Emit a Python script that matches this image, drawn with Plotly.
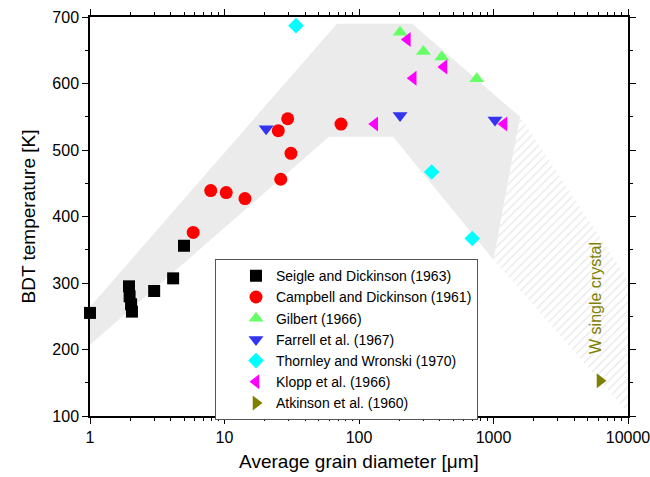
import plotly.graph_objects as go
import math

# ---------------- data ----------------
seigle_x = [1.0, 1.95, 1.97, 2.02, 2.05, 3.0, 4.15, 5.0]
seigle_y = [255, 295, 280, 268, 257, 288, 307, 356]

campbell_x = [5.85, 7.9, 10.3, 14.2, 26.2, 31.2, 25.1, 29.5, 73.5]
campbell_y = [376, 439, 436, 427, 456, 495, 529, 547, 539]

gilbert_x = [202, 301, 412, 750]
gilbert_y = [677, 648, 640, 607]

farrell_x = [20.4, 202, 1026]
farrell_y = [532, 552, 545]

thornley_x = [34, 347, 695]
thornley_y = [687, 467, 367]

klopp_x = [131, 229, 253, 428, 1197]
klopp_y = [539, 666, 608, 625, 539]

atkinson_x = [6190]
atkinson_y = [153]

# scatter band (grey) and single crystal band (hatched)
band_x = [1, 60, 179, 1000, 1574, 248, 68.6, 1]
band_y = [207, 520, 520, 335, 550, 690, 690, 264]

crystal_x = [1574, 10000, 10000, 1000]
crystal_y = [550, 305, 105, 335]

crystal_label = "W single crystal"
crystal_label_x = 5750
crystal_label_y = 277

x_tickvals = [1, 10, 100, 1000, 10000]
x_ticktext = ["1", "10", "100", "1000", "10000"]

FONT = "Liberation Sans, Arial, sans-serif"

fig = go.Figure()

fig.add_trace(go.Scatter(x=crystal_x, y=crystal_y, fill="toself", mode="lines",
                         line=dict(width=0), fillcolor="white",
                         fillpattern=dict(shape="/", fgcolor="#cfcfcf", bgcolor="white",
                                          size=6, solidity=0.2),
                         showlegend=False, hoverinfo="skip"))
fig.add_trace(go.Scatter(x=band_x, y=band_y, fill="toself", mode="lines",
                         line=dict(width=0), fillcolor="#ebebeb",
                         showlegend=False, hoverinfo="skip"))

series = [
    ("Seigle and Dickinson (1963)", seigle_x, seigle_y, "square", "#000000", 12),
    ("Campbell and Dickinson (1961)", campbell_x, campbell_y, "circle", "#ff0000", 13),
    ("Gilbert (1966)", gilbert_x, gilbert_y, "triangle-up", "#66ff66", 13),
    ("Farrell et al. (1967)", farrell_x, farrell_y, "triangle-down", "#3333f0", 13),
    ("Thornley and Wronski (1970)", thornley_x, thornley_y, "diamond", "#00ffff", 12),
    ("Klopp et al. (1966)", klopp_x, klopp_y, "triangle-left", "#ff00ff", 13),
    ("Atkinson et al. (1960)", atkinson_x, atkinson_y, "triangle-right", "#808000", 13),
]
for name, xs, ys, sym, col, sz in series:
    fig.add_trace(go.Scatter(x=xs, y=ys, mode="markers", name=name,
                             marker=dict(symbol=sym, color=col, size=sz, line=dict(width=0)),
                             cliponaxis=False))

fig.add_annotation(x=math.log10(crystal_label_x), y=crystal_label_y, xref="x", yref="y",
                   text=crystal_label, textangle=-90, showarrow=False,
                   font=dict(family=FONT, size=16, color="#808000"))

axis_common = dict(showline=True, linecolor="black", linewidth=1.5, showgrid=False,
                   zeroline=False, tickcolor="black", tickwidth=1.2, mirror="ticks",
                   automargin=False)

fig.update_layout(
    width=650, height=477,
    margin=dict(l=90, r=22, t=17, b=61),
    paper_bgcolor="white", plot_bgcolor="white",
    font=dict(family=FONT, size=16, color="black"),
    xaxis=dict(type="log", range=[0, 4], tickmode="array", tickvals=x_tickvals,
               ticktext=x_ticktext, ticks="outside", ticklen=6,
               ticklabeloverflow="allow",
               minor=dict(dtick="D1", ticks="outside", ticklen=3.5,
                          tickcolor="black", tickwidth=1.2, showgrid=False),
               title=dict(text="Average grain diameter [μm]", font=dict(size=19), standoff=10),
               tickfont=dict(size=16), **axis_common),
    yaxis=dict(range=[100, 700], dtick=100, ticks="outside", ticklen=6,
               minor=dict(dtick=50, ticks="outside", ticklen=3.5, tickcolor="black",
                          tickwidth=1.2, showgrid=False),
               title=dict(text="BDT temperature [K]", font=dict(size=19), standoff=12),
               tickfont=dict(size=16), **axis_common),
    legend=dict(x=0.2323, y=0.393, xanchor="left", yanchor="top",
                bgcolor="white", bordercolor="#555555", borderwidth=1,
                font=dict(family=FONT, size=14), indentation=20,
                entrywidth=275, entrywidthmode="pixels"),
    showlegend=True,
)

fig.write_html("out.html")
